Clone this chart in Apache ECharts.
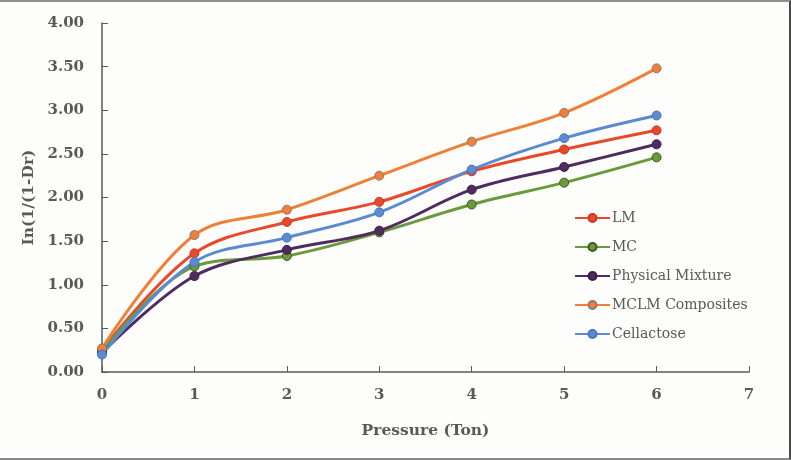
<!DOCTYPE html>
<html>
<head>
<meta charset="utf-8">
<script src="https://cdn.jsdelivr.net/npm/echarts@6/dist/echarts.min.js"></script>
<style>
  html, body { margin: 0; padding: 0; background: #fdfdfc; }
  #wrap { position: relative; width: 791px; height: 460px; }
  #chart { width: 791px; height: 460px; }
  #frame { position: absolute; left: 0; top: 0; width: 789px; height: 456px;
           border-top: 2px solid #8e8e8e; border-bottom: 2px solid #8a8a8a; border-right: 2px solid #4a4a4a;
           pointer-events: none; }
</style>
</head>
<body>
<div id="wrap">
  <div id="chart"></div>
  <div id="frame"></div>
</div>
<script>
// pressure (ton) on x
var pressure = [0, 1, 2, 3, 4, 5, 6];

// ln(1/(1-Dr)) values
var lm         = [0.25, 1.36, 1.72, 1.95, 2.30, 2.55, 2.77];
var mc         = [0.23, 1.21, 1.33, 1.60, 1.92, 2.17, 2.46];
var physical   = [0.22, 1.10, 1.40, 1.62, 2.09, 2.35, 2.61];
var mclm       = [0.27, 1.57, 1.86, 2.25, 2.64, 2.97, 3.48];
var cellactose = [0.20, 1.26, 1.54, 1.83, 2.32, 2.68, 2.94];

var seriesNames = ['LM', 'MC', 'Physical Mixture', 'MCLM Composites', 'Cellactose'];

function pairs(ys) {
  return pressure.map(function (x, i) { return [x, ys[i]]; });
}

function makeSeries(name, ys, color, border) {
  return {
    name: name,
    type: 'line',
    smooth: 0.35,
    symbol: 'circle',
    symbolSize: 9,
    data: pairs(ys),
    lineStyle: { color: color, width: 3 },
    itemStyle: { color: color, borderColor: border, borderWidth: 1 }
  };
}

var axisColor = '#595959';
var serifFont = "'DejaVu Serif', 'Liberation Serif', serif";

var chart = echarts.init(document.getElementById('chart'));
var option = {
  backgroundColor: '#fdfdfc',
  animation: false,
  grid: { left: 102, right: 42, top: 23, bottom: 88 },

  legend: {
    orient: 'vertical',
    left: 569,
    top: 206,
    itemGap: 15,
    itemWidth: 35,
    itemHeight: 10,
    data: seriesNames,
    textStyle: { fontFamily: serifFont, fontSize: 14, color: axisColor, padding: [0, 0, 0, -3] }
  },

  xAxis: {
    type: 'value',
    min: 0,
    max: 7,
    interval: 1,
    name: 'Pressure (Ton)',
    nameLocation: 'middle',
    nameGap: 51,
    nameTextStyle: { fontFamily: serifFont, fontWeight: 'bold', fontSize: 15.5, color: axisColor },
    splitLine: { show: false },
    axisLine: { lineStyle: { color: axisColor, width: 1.5 } },
    axisTick: { inside: true, length: 6, lineStyle: { color: axisColor } },
    axisLabel: { margin: 16, fontFamily: serifFont, fontWeight: 'bold', fontSize: 15, color: axisColor }
  },

  yAxis: {
    type: 'value',
    min: 0,
    max: 4,
    interval: 0.5,
    name: 'In(1/(1-Dr)',
    nameLocation: 'middle',
    nameGap: 62,
    nameTextStyle: { fontFamily: serifFont, fontWeight: 'bold', fontSize: 15.5, color: axisColor },
    splitLine: { show: false },
    axisLine: { show: true, lineStyle: { color: axisColor, width: 1.5 } },
    axisTick: { show: true, inside: true, length: 6, lineStyle: { color: axisColor } },
    axisLabel: {
      margin: 18,
      fontFamily: serifFont, fontWeight: 'bold', fontSize: 15, color: axisColor,
      formatter: function (v) { return v.toFixed(2); }
    }
  },

  series: [
    makeSeries('LM', lm, '#e8492b', '#c8391f'),
    makeSeries('MC', mc, '#6a9a3c', '#3d5a24'),
    makeSeries('Physical Mixture', physical, '#4f2c5e', '#3a1f46'),
    makeSeries('MCLM Composites', mclm, '#ee8038', '#8a7a78'),
    makeSeries('Cellactose', cellactose, '#5a8bd2', '#4a76b8')
  ]
};

chart.setOption(option);
</script>
</body>
</html>
